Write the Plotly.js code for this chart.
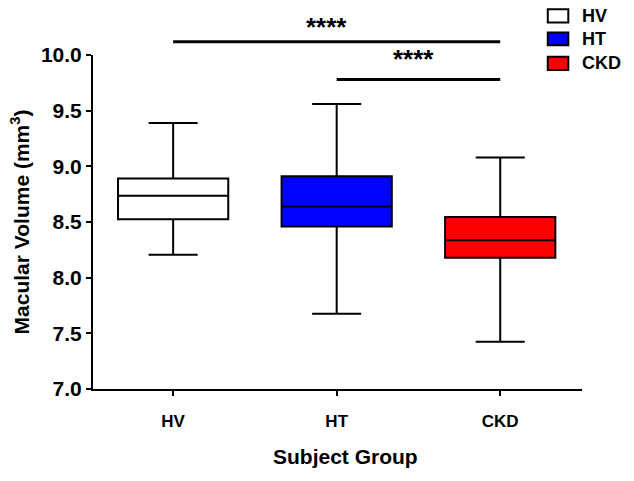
<!DOCTYPE html>
<html>
<head>
<meta charset="utf-8">
<script src="https://cdn.plot.ly/plotly-3.0.1.min.js"></script>
<style>html,body{margin:0;padding:0;background:#fff;}#chart{width:634px;height:481px;}</style>
</head>
<body>
<div id="chart"></div>
<script>
// Data
const categories = ['HV', 'HT', 'CKD'];
const upperWhisker = [9.39, 9.56, 9.08];
const q3Values = [8.89, 8.91, 8.545];
const medianValues = [8.735, 8.64, 8.335];
const q1Values = [8.525, 8.46, 8.18];
const lowerWhisker = [8.205, 7.675, 7.425];
const fillColors = ['#FFFFFF', '#0000FF', '#FF0000'];
// significance comparisons: [from index, to index, label]
const comparisons = [[0, 2, '****'], [1, 2, '****']];
const xTitle = 'Subject Group';
const yTitle = 'Macular Volume (mm<sup>3</sup>)';

const FONT = 'Liberation Sans, Arial, sans-serif';

const traces = categories.map((c, i) => ({
  type: 'box',
  name: c,
  x: [c],
  q1: [q1Values[i]],
  median: [medianValues[i]],
  q3: [q3Values[i]],
  lowerfence: [lowerWhisker[i]],
  upperfence: [upperWhisker[i]],
  boxpoints: false,
  fillcolor: fillColors[i],
  line: {color: '#000000', width: 2},
  width: 0.674,
  whiskerwidth: 0.445,
  showlegend: false,
  hoverinfo: 'skip'
}));

const shapes = [];
const annotations = [];
// significance bars (paper y positions)
const barY = [1.040, 0.927];
const starY = [1.084, 0.988];
const starShift = [-10, -5];
comparisons.forEach((cmp, k) => {
  shapes.push({type: 'line', xref: 'x', yref: 'paper', x0: cmp[0], x1: cmp[1],
    y0: barY[k], y1: barY[k], line: {color: '#000', width: 3}});
  annotations.push({xref: 'x', yref: 'paper', x: (cmp[0] + cmp[1]) / 2, y: starY[k],
    xshift: starShift[k],
    text: cmp[2], showarrow: false, xanchor: 'center', yanchor: 'middle',
    font: {family: FONT, size: 26, color: '#000', weight: 'bold'}});
});

// custom legend
const legTop = [1.137, 1.067, 0.995];
const legBot = [1.097, 1.029, 0.955];
categories.forEach((c, i) => {
  shapes.push({type: 'rect', xref: 'paper', yref: 'paper', x0: 0.930, x1: 0.972,
    y0: legBot[i], y1: legTop[i], fillcolor: fillColors[i], line: {color: '#000', width: 2}});
  annotations.push({xref: 'paper', yref: 'paper', x: 0.995, y: (legTop[i] + legBot[i]) / 2,
    text: c, showarrow: false, xanchor: 'left', yanchor: 'middle',
    font: {family: FONT, size: 18, color: '#000', weight: 'bold'}});
});

// x-axis title
annotations.push({xref: 'paper', yref: 'paper', x: 0.516, y: -0.201,
  text: xTitle, showarrow: false, xanchor: 'center', yanchor: 'middle',
  font: {family: FONT, size: 21, color: '#000', weight: 'bold'}});

const layout = {
  width: 634, height: 481,
  margin: {l: 93, r: 52, t: 55, b: 92, pad: 0},
  paper_bgcolor: '#fff', plot_bgcolor: '#fff',
  showlegend: false,
  font: {family: FONT, color: '#000'},
  xaxis: {
    type: 'category',
    range: [-0.49, 2.5],
    showline: true, linecolor: '#000', linewidth: 2,
    ticks: 'outside', ticklen: 5, tickwidth: 2, tickcolor: '#000',
    ticklabelstandoff: 11,
    showgrid: false, zeroline: false,
    tickfont: {family: FONT, size: 17, color: '#000', weight: 'bold'}
  },
  yaxis: {
    range: [7, 10],
    dtick: 0.5, tick0: 7,
    tickformat: '.1f',
    showline: true, linecolor: '#000', linewidth: 2,
    ticks: 'outside', ticklen: 5, tickwidth: 2, tickcolor: '#000',
    showgrid: false, zeroline: false,
    tickfont: {family: FONT, size: 21, color: '#000', weight: 'bold'},
    title: {text: yTitle, standoff: 6,
      font: {family: FONT, size: 21, color: '#000', weight: 'bold'}}
  },
  shapes: shapes,
  annotations: annotations
};

Plotly.newPlot('chart', traces, layout, {displayModeBar: false, staticPlot: true});
</script>
</body>
</html>
